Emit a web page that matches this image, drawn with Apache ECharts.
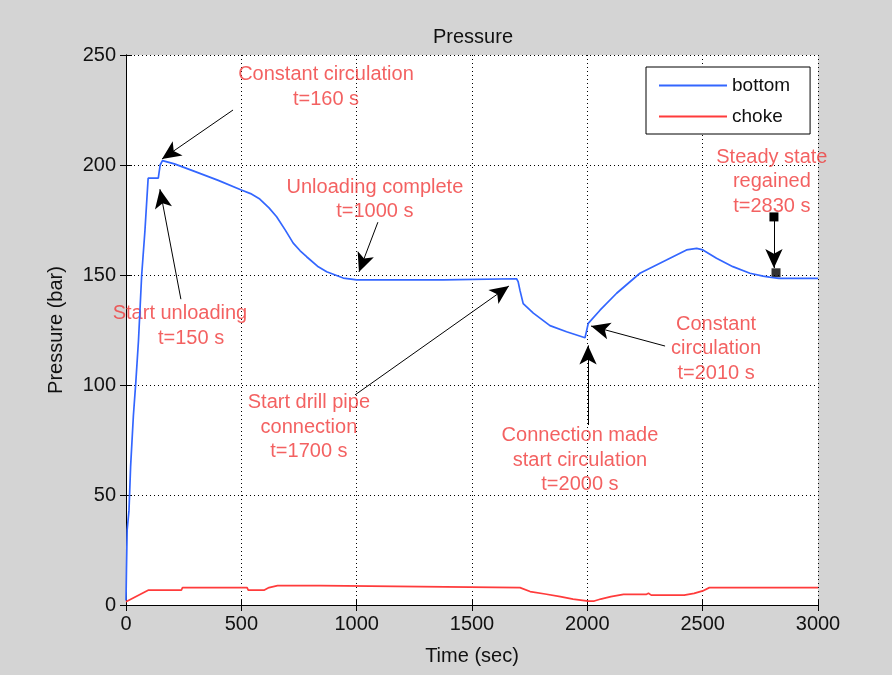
<!DOCTYPE html>
<html>
<head>
<meta charset="utf-8">
<script src="https://cdn.jsdelivr.net/npm/echarts@6/dist/echarts.min.js"></script>
<style>
html,body{margin:0;padding:0;background:#d4d4d4;}
#chart{width:892px;height:675px;}
</style>
</head>
<body>
<div id="chart"></div>
<script>
// ---- Data ----
const bottomT = [0,2,5,13,20,32,43,54,68,82,96,105,140,148,158,210,300,400,500,540,580,620,653,690,725,755,783,830,870,942,1000,1375,1380,1693,1700,1708,1722,1766,1838,1910,1990,1995,2004,2055,2127,2228,2343,2430,2474,2501,2560,2631,2705,2762,2790,2830,3000];
const bottomP = [2,16,34,43,63,86,102,120,150,170,194,194,194,200,202,200.5,197,193,188.6,187,184.5,180.5,176.5,170.5,164.5,161,158.3,154,151.5,148.6,147.8,147.8,148.3,148.3,147,143,137,132.7,127,124.2,121.5,121.2,128,134,141.7,150.8,156.8,161.4,162.1,161.4,157.6,153.8,150.8,149.5,149,148.5,148.5];

const chokeT = [0,98,240,245,525,530,600,620,657,843,850,1708,1752,1817,1883,1938,2004,2030,2058,2102,2157,2255,2265,2277,2420,2463,2500,2529,3000];
const chokeP = [1.5,6.8,6.8,7.9,7.9,6.8,6.8,7.9,8.8,8.8,7.9,7.9,6.1,5.0,3.8,2.7,1.8,1.8,2.7,3.8,4.8,4.8,5.3,4.5,4.5,5.3,6.4,7.9,7.9];

const xTicks = [0,500,1000,1500,2000,2500,3000];
const yTicks = [0,50,100,150,200,250];

const noteTexts = ["Constant circulation\nt=160 s","Unloading complete\nt=1000 s","Start unloading","t=150 s","Start drill pipe\nconnection\nt=1700 s","Connection made\nstart circulation\nt=2000 s","Constant\ncirculation\nt=2010 s","Steady state\nregained\nt=2830 s"];
const noteT = [867,1079,234,282,793,1968,2558,2800];
const noteP = [235.5,184.3,132.3,121,80.9,65.9,116.4,192.5];

const arrowFromT = [464,1092,238,993,2003,2337,2809];
const arrowFromP = [225,174,139,95.5,81.8,117.7,176.4];
const arrowToT   = [156,1010,147,1660,2003,2016,2809];
const arrowToP   = [202.7,151.4,189,145,118,126.8,153.2];
const markerT = [2818];
const markerP = [151];

// ---- Build ----
const zip = (a,b)=>a.map((v,i)=>[v,b[i]]);
const font = "'Liberation Sans', Arial, sans-serif";
const red = '#f03a3a';

const arrows = arrowFromT.map((t,i)=>[
  {coord:[t,arrowFromP[i]], symbol: i===6 ? 'rect' : 'none', symbolSize: 9},
  {coord:[arrowToT[i],arrowToP[i]], symbol:'arrow', symbolSize:[13,19]}
]);

const chart = echarts.init(document.getElementById('chart'));
chart.setOption({
  animation:false,
  backgroundColor:'#d4d4d4',
  title:{text:'Pressure', left:468, top:22, textAlign:'center',
    textStyle:{fontFamily:font, fontSize:20, fontWeight:'normal', color:'#111'}},
  legend:{
    data:['bottom','choke'], orient:'vertical', left:646, top:67,
    itemWidth:68, itemHeight:14, itemGap:12,
    padding:[9,20,8,12],
    itemStyle:{opacity:0},
    backgroundColor:'#fff', borderColor:'#000', borderWidth:1,
    textStyle:{fontFamily:font, fontSize:19, color:'#111'}
  },
  grid:{left:126, right:74, top:55, bottom:70, show:true, backgroundColor:'#fff', borderWidth:0},
  xAxis:[{
    type:'value', min:0, max:3000, interval:500,
    name:'Time (sec)', nameLocation:'middle', nameGap:41,
    nameTextStyle:{fontFamily:font, fontSize:20, color:'#111'},
    axisLine:{lineStyle:{color:'#000', width:1}},
    axisTick:{inside:true, length:6, lineStyle:{color:'#000'}},
    axisLabel:{fontFamily:font, fontSize:20, color:'#111', margin:9,
      formatter:v=>xTicks.includes(v)?String(v):''},
    splitLine:{show:true, lineStyle:{color:'#000', type:[1,3], width:1}}
  },{
    type:'value', min:0, max:3000, interval:500, position:'top',
    axisLine:{lineStyle:{color:'#000', width:1}},
    axisTick:{inside:true, length:6, lineStyle:{color:'#000'}},
    axisLabel:{show:false}, splitLine:{show:false}
  }],
  yAxis:[{
    type:'value', min:0, max:250, interval:50,
    name:'Pressure (bar)', nameLocation:'middle', nameGap:60, nameRotate:90,
    nameTextStyle:{fontFamily:font, fontSize:20, color:'#111'},
    axisLine:{show:true, lineStyle:{color:'#000', width:1}},
    axisTick:{show:true, inside:true, length:6, lineStyle:{color:'#000'}},
    axisLabel:{fontFamily:font, fontSize:20, color:'#111', margin:10,
      formatter:v=>yTicks.includes(v)?String(v):''},
    splitLine:{show:true, lineStyle:{color:'#000', type:[1,3], width:1}}
  },{
    type:'value', min:0, max:250, interval:50, position:'right',
    axisLine:{show:true, lineStyle:{color:'#000', width:1}},
    axisTick:{show:true, inside:true, length:6, lineStyle:{color:'#000'}},
    axisLabel:{show:false}, splitLine:{show:false}
  }],
  series:[{
    name:'bottom', type:'line', data:zip(bottomT,bottomP), symbol:'none',
    lineStyle:{color:'#3366ff', width:1.7}, itemStyle:{color:'#3366ff'}
  },{
    name:'choke', type:'line', data:zip(chokeT,chokeP), symbol:'none',
    lineStyle:{color:'#ff3b3b', width:1.7}, itemStyle:{color:'#ff3b3b'}
  },{
    name:'notes', type:'scatter', symbolSize:0, silent:true,
    data:zip(noteT,noteP).map((d,i)=>({value:d, label:{formatter:noteTexts[i]}})),
    label:{show:true, position:'inside', align:'center', verticalAlign:'middle',
      fontFamily:font, fontSize:20, lineHeight:24.5, color:red},
    markLine:{silent:true, animation:false, symbol:['none','arrow'],
      lineStyle:{color:'#000', width:1, type:'solid'}, label:{show:false},
      data:arrows}
  },{
    name:'marker', type:'scatter', symbol:'rect', symbolSize:9, silent:true,
    itemStyle:{color:'#000'}, data:zip(markerT,markerP)
  }]
});
</script>
</body>
</html>
